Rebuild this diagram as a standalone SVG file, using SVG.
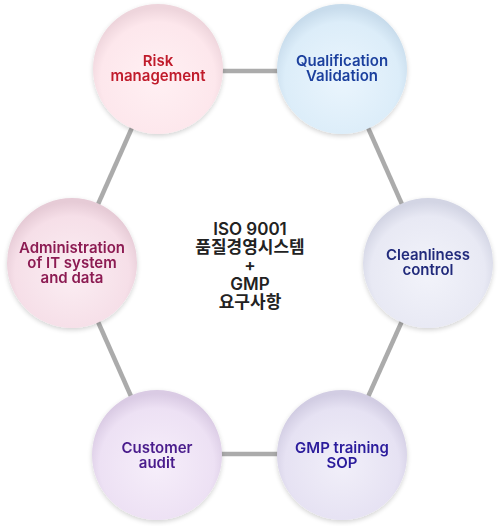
<svg xmlns="http://www.w3.org/2000/svg" width="500" height="526" viewBox="0 0 500 526">
<style>
.lbl{font-family:Inter,"Noto Sans","Noto Sans CJK KR",sans-serif;font-weight:600;font-size:15px;text-anchor:middle}
.ctr{font-family:Inter,"Noto Sans CJK KR",sans-serif;font-weight:600;font-size:17px;text-anchor:middle;fill:#222}
.conn line{stroke:#ababab;stroke-width:4.5}
</style>
<defs>
<filter id="sh" x="-20%" y="-20%" width="140%" height="140%">
<feGaussianBlur in="SourceAlpha" stdDeviation="2.5"/>
<feOffset dy="2"/>
<feComponentTransfer><feFuncA type="linear" slope="0.18"/></feComponentTransfer>
<feMerge><feMergeNode/><feMergeNode in="SourceGraphic"/></feMerge>
</filter>
<radialGradient id="gR" cx="50%" cy="58%" r="55%"><stop offset="0" stop-color="#fff0f3"/><stop offset="0.8" stop-color="#fde7ec"/><stop offset="1" stop-color="#eed5dc"/></radialGradient>
<radialGradient id="gQ" cx="50%" cy="58%" r="55%"><stop offset="0" stop-color="#eaf5fd"/><stop offset="0.8" stop-color="#dcedf9"/><stop offset="1" stop-color="#c8dcec"/></radialGradient>
<radialGradient id="gC" cx="50%" cy="58%" r="55%"><stop offset="0" stop-color="#f2f3fa"/><stop offset="0.8" stop-color="#e8e9f4"/><stop offset="1" stop-color="#d3d5e4"/></radialGradient>
<radialGradient id="gA" cx="50%" cy="58%" r="55%"><stop offset="0" stop-color="#fbeef3"/><stop offset="0.8" stop-color="#f6dfe8"/><stop offset="1" stop-color="#e6cbd6"/></radialGradient>
<radialGradient id="gU" cx="50%" cy="58%" r="55%"><stop offset="0" stop-color="#f6eefa"/><stop offset="0.8" stop-color="#ede1f4"/><stop offset="1" stop-color="#dacbe4"/></radialGradient>
<radialGradient id="gG" cx="50%" cy="58%" r="55%"><stop offset="0" stop-color="#f1eff9"/><stop offset="0.8" stop-color="#e6e2f3"/><stop offset="1" stop-color="#d2cde3"/></radialGradient>
</defs>
<g class="conn" id="connectors">
<line x1="158" y1="71" x2="342" y2="71"/>
<line x1="342" y1="69" x2="428" y2="263"/>
<line x1="428" y1="263" x2="342" y2="455"/>
<line x1="342" y1="454" x2="157" y2="454"/>
<line x1="157" y1="455" x2="72" y2="263"/>
<line x1="72" y1="263" x2="158" y2="69"/>
</g>
<g id="risk" filter="url(#sh)">
<circle cx="158" cy="69" r="65" fill="url(#gR)"/>
<text class="lbl" fill="#c01a2c"><tspan x="158" y="66">Risk</tspan><tspan x="158" y="81">management</tspan></text>
</g>
<g id="qualification" filter="url(#sh)">
<circle cx="342" cy="69" r="65" fill="url(#gQ)"/>
<text class="lbl" fill="#1c419e"><tspan x="342" y="66">Qualification</tspan><tspan x="342" y="81">Validation</tspan></text>
</g>
<g id="cleanliness" filter="url(#sh)">
<circle cx="428" cy="263" r="65" fill="url(#gC)"/>
<text class="lbl" fill="#222c7c"><tspan x="428" y="260">Cleanliness</tspan><tspan x="428" y="275">control</tspan></text>
</g>
<g id="administration" filter="url(#sh)">
<circle cx="72" cy="263" r="65" fill="url(#gA)"/>
<text class="lbl" fill="#8c1a52"><tspan x="72" y="253">Administration</tspan><tspan x="72" y="268">of IT system</tspan><tspan x="72" y="283">and data</tspan></text>
</g>
<g id="customer" filter="url(#sh)">
<circle cx="157" cy="455" r="65" fill="url(#gU)"/>
<text class="lbl" fill="#4a1c8c"><tspan x="157" y="453">Customer</tspan><tspan x="157" y="468">audit</tspan></text>
</g>
<g id="gmptraining" filter="url(#sh)">
<circle cx="342" cy="455" r="65" fill="url(#gG)"/>
<text class="lbl" fill="#2c1c9c"><tspan x="342" y="453">GMP training</tspan><tspan x="342" y="468">SOP</tspan></text>
</g>
<g id="center">
<text class="ctr"><tspan x="250" y="235">ISO 9001</tspan><tspan x="250" y="253">품질경영시스템</tspan><tspan x="250" y="271">+</tspan><tspan x="250" y="290">GMP</tspan><tspan x="250" y="308">요구사항</tspan></text>
</g>
</svg>
